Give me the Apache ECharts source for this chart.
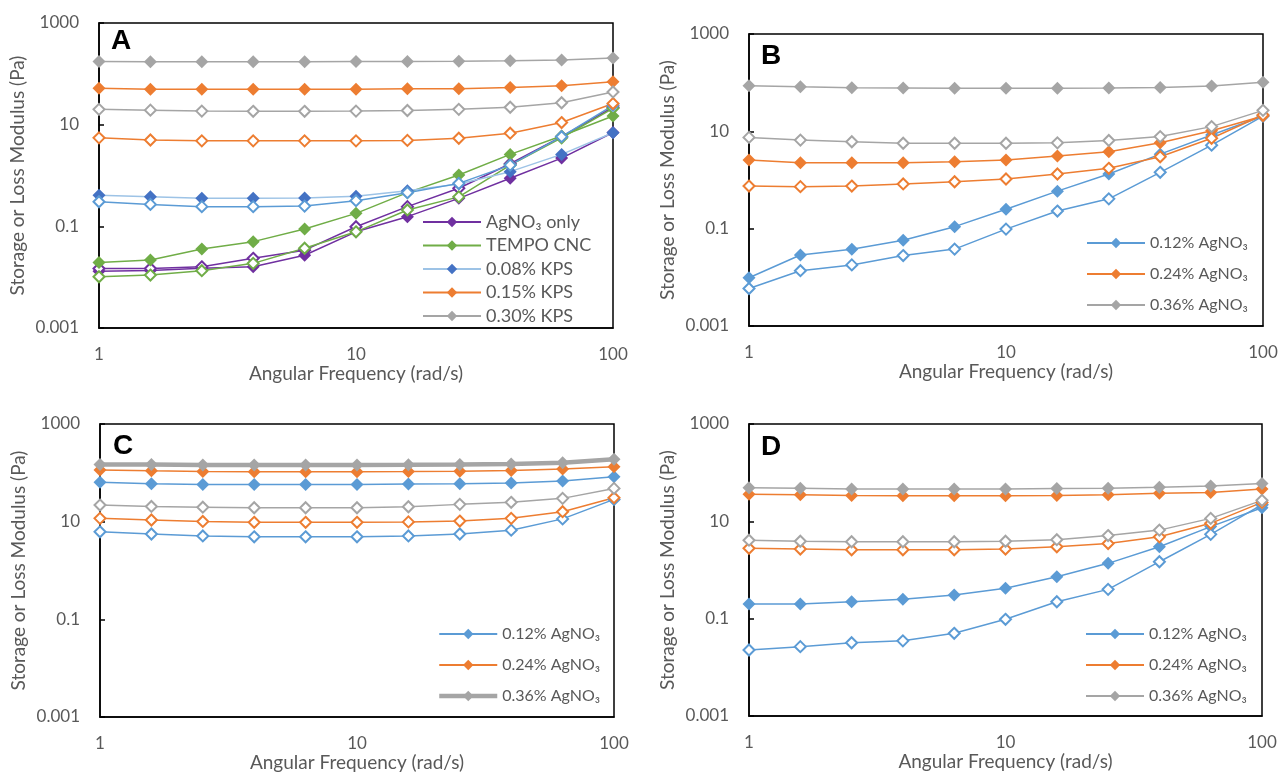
<!DOCTYPE html>
<html>
<head>
<meta charset="utf-8">
<script src="https://cdn.jsdelivr.net/npm/echarts@6/dist/echarts.min.js"></script>
<style>
  html, body { margin: 0; padding: 0; background: #fff; }
  #chart { width: 1281px; height: 775px; }
</style>
</head>
<body>
<div id="chart"></div>
<script>
// angular frequency (rad/s), shared by all panels
const freq = [1, 1.585, 2.512, 3.981, 6.31, 10, 15.85, 25.12, 39.81, 63.1, 100]
const yTickLabels = ['0.001', '0.1', '10', '1000']
const xTickLabels = ['1', '10', '100']

// panel A (G' filled, G'' hollow)
const aAgOnlyG1 = [0.013, 0.0135, 0.015, 0.016, 0.027, 0.078, 0.155, 0.355, 0.88, 2.2, 7]
const aAgOnlyG2 = [0.0148, 0.0148, 0.016, 0.0235, 0.034, 0.098, 0.244, 0.56, 1.7, 5.8, 22]
const aTempoG1 = [0.0195, 0.0217, 0.0358, 0.05, 0.0886, 0.18, 0.46, 1.02, 2.6, 6.0, 14.8]
const aTempoG2 = [0.0102, 0.011, 0.0134, 0.0187, 0.037, 0.078, 0.21, 0.38, 1.6, 5.5, 21]
const aKps08G1 = [0.41, 0.38, 0.355, 0.355, 0.36, 0.39, 0.5, 0.68, 1.19, 2.6, 6.95]
const aKps08G2 = [0.305, 0.27, 0.244, 0.244, 0.25, 0.32, 0.46, 0.7, 1.6, 5.8, 24]
const aKps15G1 = [52, 50, 50, 50, 50, 50, 51, 51, 54, 58, 70]
const aKps15G2 = [5.5, 5.0, 4.8, 4.8, 4.8, 4.8, 4.9, 5.4, 6.8, 11, 26]
const aKps30G1 = [175, 172, 172, 172, 173, 174, 175, 177, 180, 187, 205]
const aKps30G2 = [20, 19.3, 18.5, 18.3, 18.3, 18.5, 19, 20, 22, 27, 44]

// panel B
const bAg12G1 = [0.0098, 0.0288, 0.0377, 0.058, 0.11, 0.25, 0.59, 1.33, 3.4, 8.4, 20.6]
const bAg12G2 = [0.0059, 0.0137, 0.018, 0.028, 0.038, 0.098, 0.23, 0.41, 1.44, 5.2, 20.6]
const bAg24G1 = [2.58, 2.27, 2.27, 2.27, 2.38, 2.58, 3.1, 3.8, 5.8, 10.3, 20.6]
const bAg24G2 = [0.75, 0.73, 0.75, 0.83, 0.92, 1.05, 1.33, 1.74, 3.0, 7.2, 21.7]
const bAg36G1 = [86, 82, 79, 78, 77, 77, 77, 78, 80, 85, 102]
const bAg36G2 = [7.5, 6.6, 6.1, 5.7, 5.7, 5.7, 5.8, 6.5, 7.8, 12.5, 27]

// panel C
const cAg12G1 = [64, 60, 58, 58, 58, 58, 59, 60, 62, 68, 83]
const cAg12G2 = [6.2, 5.6, 5.1, 4.9, 4.9, 4.9, 5.1, 5.6, 6.7, 11.4, 28.6]
const cAg24G1 = [114, 110, 107, 105, 105, 105, 106, 108, 112, 120, 134]
const cAg24G2 = [11.7, 10.8, 10.1, 9.7, 9.7, 9.7, 9.9, 10.3, 11.7, 16, 31]
const cAg36G1 = [149, 148, 145, 145, 145, 145, 146, 148, 152, 160, 189]
const cAg36G2 = [21.9, 20.5, 19.8, 19.3, 19.3, 19.3, 20.2, 22.6, 24.9, 30, 48]

// panel D
const dAg12G1 = [0.2, 0.2, 0.223, 0.25, 0.306, 0.42, 0.73, 1.37, 3.0, 7.8, 19]
const dAg12G2 = [0.0227, 0.0266, 0.032, 0.035, 0.05, 0.097, 0.223, 0.4, 1.48, 5.4, 22]
const dAg24G1 = [36, 35, 34, 33.6, 33.6, 33.6, 34, 35, 37.6, 39, 46]
const dAg24G2 = [2.8, 2.7, 2.6, 2.6, 2.6, 2.7, 3.0, 3.5, 4.8, 9.1, 24.5]
const dAg36G1 = [49, 48, 46, 46, 46, 46, 47, 48, 50, 53, 60]
const dAg36G2 = [4.1, 3.9, 3.8, 3.8, 3.8, 3.9, 4.2, 5.1, 6.6, 11.5, 27]

const FONT = 'Lato, "Open Sans", sans-serif'
const GREY_TEXT = '#595959'

const grids = [
  { left: 99, top: 23, width: 514, height: 305 },
  { left: 749, top: 34, width: 514, height: 292 },
  { left: 100, top: 424, width: 514, height: 293 },
  { left: 749, top: 424, width: 513, height: 292 }
]

const toPairs = vals => vals.map((v, i) => [freq[i], v])

// one series: filled diamond for G', hollow for G''
const mkSeries = (panel, name, vals, color, filled, opts = {}) => ({
  type: 'line',
  name: panel + '|' + name,
  xAxisIndex: 'ABCD'.indexOf(panel),
  yAxisIndex: 'ABCD'.indexOf(panel),
  data: toPairs(vals),
  symbol: 'diamond',
  symbolSize: filled ? 13 : 11,
  showSymbol: true,
  animation: false,
  lineStyle: { color: opts.lineColor || color, width: opts.lineWidth || 1.5 },
  itemStyle: filled
    ? { color: opts.markColor || color, borderColor: opts.markColor || color, borderWidth: 0 }
    : { color: '#fff', borderColor: opts.markColor || color, borderWidth: 2 }
})

const BLUE = '#5B9BD5'
const ORANGE = '#ED7D31'
const GREY = '#A5A5A5'

const series = [
  mkSeries('A', 'AgNO₃ only', aAgOnlyG1, '#7030A0', true),
  mkSeries('A', 'AgNO₃ only', aAgOnlyG2, '#7030A0', false),
  mkSeries('A', 'TEMPO CNC', aTempoG1, '#70AD47', true),
  mkSeries('A', 'TEMPO CNC', aTempoG2, '#70AD47', false),
  mkSeries('A', '0.08% KPS', aKps08G1, '#4472C4', true, { lineColor: '#9DC3E6' }),
  mkSeries('A', '0.08% KPS', aKps08G2, BLUE, false),
  mkSeries('A', '0.15% KPS', aKps15G1, ORANGE, true),
  mkSeries('A', '0.15% KPS', aKps15G2, ORANGE, false),
  mkSeries('A', '0.30% KPS', aKps30G1, GREY, true),
  mkSeries('A', '0.30% KPS', aKps30G2, GREY, false),

  mkSeries('B', '0.12% AgNO₃', bAg12G1, BLUE, true),
  mkSeries('B', '0.12% AgNO₃', bAg12G2, BLUE, false),
  mkSeries('B', '0.24% AgNO₃', bAg24G1, ORANGE, true),
  mkSeries('B', '0.24% AgNO₃', bAg24G2, ORANGE, false),
  mkSeries('B', '0.36% AgNO₃', bAg36G1, GREY, true),
  mkSeries('B', '0.36% AgNO₃', bAg36G2, GREY, false),

  mkSeries('C', '0.12% AgNO₃', cAg12G1, BLUE, true),
  mkSeries('C', '0.12% AgNO₃', cAg12G2, BLUE, false),
  mkSeries('C', '0.24% AgNO₃', cAg24G1, ORANGE, true),
  mkSeries('C', '0.24% AgNO₃', cAg24G2, ORANGE, false),
  mkSeries('C', '0.36% AgNO₃', cAg36G1, GREY, true, { lineWidth: 4.5 }),
  mkSeries('C', '0.36% AgNO₃', cAg36G2, GREY, false),

  mkSeries('D', '0.12% AgNO₃', dAg12G1, BLUE, true),
  mkSeries('D', '0.12% AgNO₃', dAg12G2, BLUE, false),
  mkSeries('D', '0.24% AgNO₃', dAg24G1, ORANGE, true),
  mkSeries('D', '0.24% AgNO₃', dAg24G2, ORANGE, false),
  mkSeries('D', '0.36% AgNO₃', dAg36G1, GREY, true),
  mkSeries('D', '0.36% AgNO₃', dAg36G2, GREY, false)
]

const xAxes = grids.map((g, i) => ({
  type: 'log',
  logBase: 10,
  gridIndex: i,
  min: 1,
  max: 100,
  name: 'Angular Frequency (rad/s)',
  nameLocation: 'middle',
  nameGap: 36,
  nameTextStyle: { fontFamily: FONT, fontSize: 19, color: GREY_TEXT },
  axisLine: { show: true, lineStyle: { color: '#000', width: 1.5 } },
  axisTick: { show: false },
  splitLine: { show: false },
  minorTick: { show: false },
  axisLabel: {
    margin: 18,
    fontFamily: FONT,
    fontSize: 17,
    color: GREY_TEXT,
    formatter: v => xTickLabels[Math.round(Math.log10(v))]
  }
}))

const yAxes = grids.map((g, i) => ({
  type: 'log',
  logBase: 10,
  gridIndex: i,
  min: 0.001,
  max: 1000,
  interval: 2,
  name: 'Storage or Loss Modulus (Pa)',
  nameLocation: 'middle',
  nameGap: 72,
  nameTextStyle: { fontFamily: FONT, fontSize: 19, color: GREY_TEXT },
  axisLine: { show: true, lineStyle: { color: '#000', width: 1.5 } },
  axisTick: { show: true, inside: true, length: 5, lineStyle: { color: '#000', width: 1.5 } },
  splitLine: { show: false },
  axisLabel: {
    margin: 20,
    fontFamily: FONT,
    fontSize: 17,
    color: GREY_TEXT,
    formatter: v => yTickLabels[Math.round((Math.log10(v) + 3) / 2)]
  }
}))

const legendPos = [
  { panel: 'A', names: ['AgNO₃ only', 'TEMPO CNC', '0.08% KPS', '0.15% KPS', '0.30% KPS'], left: 417, top: 208, gap: 5.5, size: 18 },
  { panel: 'B', names: ['0.12% AgNO₃', '0.24% AgNO₃', '0.36% AgNO₃'], left: 1081, top: 230, gap: 15, size: 16 },
  { panel: 'C', names: ['0.12% AgNO₃', '0.24% AgNO₃', '0.36% AgNO₃'], left: 432, top: 621, gap: 15, size: 16, thick: '0.36% AgNO₃' },
  { panel: 'D', names: ['0.12% AgNO₃', '0.24% AgNO₃', '0.36% AgNO₃'], left: 1080, top: 621, gap: 15, size: 16 }
]

const legends = legendPos.map(l => ({
  orient: 'vertical',
  left: l.left,
  top: l.top,
  itemWidth: 58,
  itemHeight: 13,
  itemGap: l.gap,
  selectedMode: false,
  data: l.names.map(n => n === l.thick
    ? { name: l.panel + '|' + n, lineStyle: { width: 4.5 } }
    : l.panel + '|' + n),
  formatter: name => name.split('|')[1],
  textStyle: { fontFamily: FONT, fontSize: l.size, color: GREY_TEXT }
}))

const letters = [
  { text: 'A', left: 111, top: 27 },
  { text: 'B', left: 761, top: 42 },
  { text: 'C', left: 113, top: 432 },
  { text: 'D', left: 761, top: 433 }
]

const chart = echarts.init(document.getElementById('chart'))
chart.setOption({
  backgroundColor: '#fff',
  animation: false,
  title: letters.map(t => ({
    text: t.text,
    left: t.left,
    top: t.top,
    padding: 0,
    textStyle: { fontFamily: '"Liberation Sans", Arial, sans-serif', fontWeight: 'bold', fontSize: 28, color: '#000' }
  })),
  grid: grids.map(g => ({ ...g, show: true, borderColor: '#000', borderWidth: 1.5, backgroundColor: 'transparent' })),
  legend: legends,
  xAxis: xAxes,
  yAxis: yAxes,
  series
})

window.addEventListener('resize', () => chart.resize())
</script>
</body>
</html>
